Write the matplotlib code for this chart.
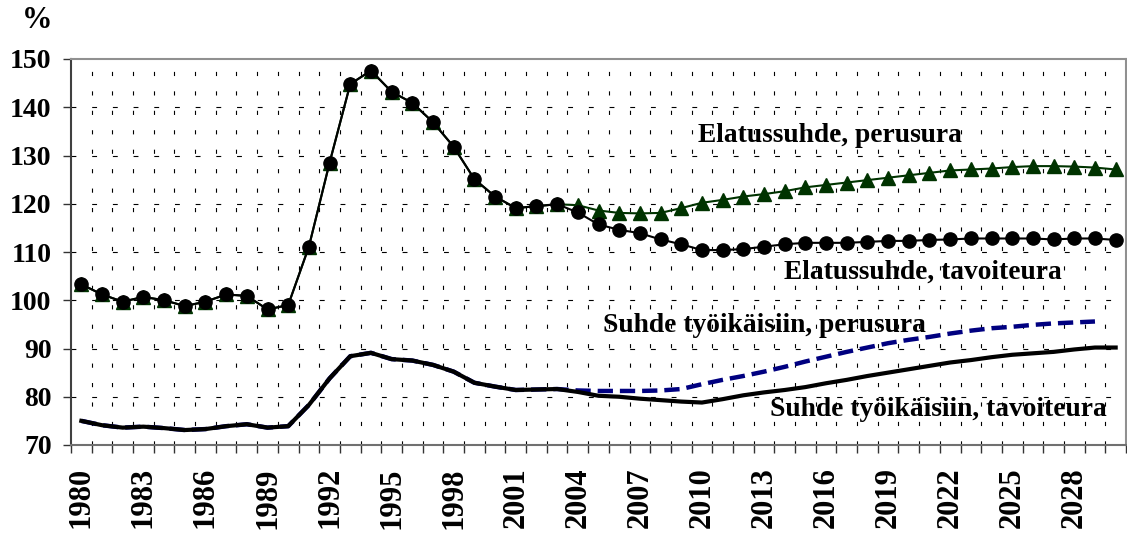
import numpy as np
import matplotlib
matplotlib.use("Agg")
import matplotlib.pyplot as plt

plt.rcParams['lines.scale_dashes'] = False
plt.rcParams['font.family'] = ['Liberation Serif', 'DejaVu Serif']

years = list(range(1980, 2031))

elatus_tavoite = [103.3, 101.2, 99.7, 100.7, 100.0, 98.8, 99.7, 101.2, 100.9, 98.1,
                  99.0, 111.1, 128.5, 144.8, 147.6, 143.2, 140.9, 136.9, 131.8, 125.1,
                  121.5, 119.1, 119.5, 119.9, 118.2, 115.7, 114.6, 113.9, 112.6, 111.6,
                  110.4, 110.4, 110.6, 111.1, 111.6, 111.9, 111.9, 111.9, 112.1, 112.3,
                  112.3, 112.5, 112.6, 112.8, 112.8, 112.8, 112.8, 112.6, 112.8, 112.8,
                  112.5]
elatus_perus = [103.3, 101.2, 99.7, 100.7, 100.0, 98.8, 99.7, 101.2, 100.9, 98.1,
                99.0, 111.1, 128.5, 144.8, 147.6, 143.2, 140.9, 136.9, 131.8, 125.1,
                121.5, 119.1, 119.5, 119.9, 119.7, 118.6, 118.1, 118.0, 118.1, 119.1,
                120.2, 120.8, 121.5, 122.0, 122.6, 123.4, 123.9, 124.4, 124.9, 125.4,
                125.9, 126.4, 126.9, 127.1, 127.3, 127.6, 127.8, 127.8, 127.7, 127.5,
                127.1]
suhde_tavoite = [75.0, 74.1, 73.6, 73.8, 73.5, 73.1, 73.3, 73.9, 74.3, 73.6,
                 73.9, 78.3, 83.8, 88.4, 89.1, 87.8, 87.5, 86.6, 85.2, 82.9,
                 82.1, 81.4, 81.5, 81.6, 81.0, 80.2, 80.0, 79.6, 79.3, 79.0,
                 78.8, 79.5, 80.3, 80.9, 81.4, 82.0, 82.8, 83.5, 84.3, 85.0,
                 85.7, 86.4, 87.1, 87.6, 88.2, 88.7, 89.0, 89.3, 89.8, 90.2,
                 90.2]
suhde_perus = [75.0, 74.1, 73.6, 73.8, 73.5, 73.1, 73.3, 73.9, 74.3, 73.6,
               73.9, 78.3, 83.8, 88.4, 89.1, 87.8, 87.5, 86.6, 85.2, 82.9,
               82.1, 81.4, 81.5, 81.6, 81.3, 81.2, 81.2, 81.2, 81.3, 81.6,
               82.6, 83.5, 84.3, 85.2, 86.2, 87.3, 88.3, 89.3, 90.2, 91.1,
               91.8, 92.4, 93.1, 93.7, 94.2, 94.5, 94.9, 95.2, 95.4, 95.6,
               np.nan]

series_labels = ["Elatussuhde, perusura", "Elatussuhde, tavoiteura",
                 "Suhde työikäisiin, perusura", "Suhde työikäisiin, tavoiteura"]

x = np.arange(len(years))

fig = plt.figure(figsize=(11.27, 5.35), dpi=100)
ax = fig.add_axes([71/1127, 1 - 445/535, (1126-71)/1127, (445-59)/535])

# grid
for k in range(1, len(years)):
    ax.axvline(k - 0.5, color='black', lw=0.8, linestyle=(0, (3, 11)), zorder=0)
for v in range(80, 150, 10):
    ax.axhline(v, color='black', lw=0.8, linestyle=(0, (3.5, 11.4)), zorder=0)

ax.plot(x, suhde_perus, color='#000080', lw=3.2, linestyle=(0, (11, 5)), zorder=2)
ax.plot(x, suhde_tavoite, color='black', lw=3.0, zorder=3)
ax.plot(x, elatus_perus, color='#003300', lw=1.5, marker='^', markersize=10,
        markerfacecolor='#003300', markeredgecolor='#003300', zorder=4)
ax.plot(x, elatus_tavoite, color='black', lw=1.5, marker='o', markersize=9.5,
        markerfacecolor='black', markeredgecolor='black', zorder=5)

tkw = dict(fontsize=19.8, fontweight='bold', color='black', zorder=6)
ax.text(36.2, 134.2, series_labels[0], ha='center', va='center', **tkw)
ax.text(40.7, 105.9, series_labels[1], ha='center', va='center', **tkw)
ax.text(33.0, 94.7, series_labels[2], ha='center', va='center', **tkw)
ax.text(41.45, 77.3, series_labels[3], ha='center', va='center', **tkw)

ax.set_xlim(-0.5, len(years) - 0.5)
ax.set_ylim(70, 150)
ax.set_yticks(range(70, 151, 10))
ax.set_yticklabels([str(v) for v in range(70, 151, 10)], fontsize=20, fontweight='bold')
ax.set_xticks(x[::3])
ax.set_xticklabels([str(y) for y in years[::3]], rotation=90, fontsize=22, fontweight='bold')
ax.set_xticks(np.arange(-0.5, len(years), 1.0), minor=True)
ax.tick_params(axis='x', which='major', length=0, pad=16)
ax.tick_params(axis='x', which='minor', length=6, width=1.0, color='#333333', direction='out')
ax.tick_params(axis='y', which='major', length=6, width=1.0, color='#333333', direction='out', pad=8)

for s in ['top', 'right']:
    ax.spines[s].set_color('#909090')
    ax.spines[s].set_linewidth(1.5)
ax.spines['left'].set_color('#404040')
ax.spines['left'].set_linewidth(1.5)
ax.spines['bottom'].set_color('#707070')
ax.spines['bottom'].set_linewidth(1.5)

fig.text(37/1127, 1 - 21/535, '%', ha='center', va='center', fontsize=22, fontweight='bold')

fig.savefig('out.png', dpi=100)
